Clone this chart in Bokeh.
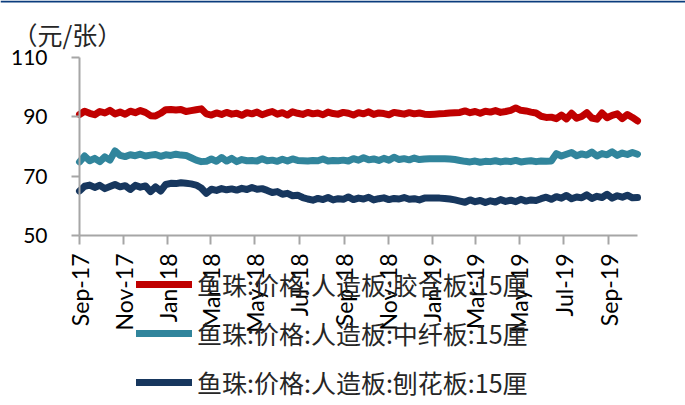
import math
import pandas as pd
from bokeh.plotting import figure
from bokeh.models import (Range1d, FixedTicker, MonthsTicker, DatetimeTickFormatter,
                          Legend, LegendItem, Label, PolyAnnotation)
from bokeh.embed import file_html
from bokeh.resources import INLINE

# Weekly prices at Yuzhu market, yuan per sheet (15 mm boards)
plywood = [
    90.8, 91.9, 91.2, 90.7, 91.8, 91.3, 92.2, 91.0, 91.6, 90.9, 91.9, 91.4, 92.1, 91.5,
    90.4, 90.3, 91.2,
    92.4, 92.5, 92.3, 92.5, 91.8, 92.1, 92.4, 92.7, 91.0,
    90.6, 91.3, 90.8, 91.5, 90.9, 91.2, 90.5, 91.4, 91.0, 91.6,
    90.7, 91.3, 91.8, 90.9, 91.4, 90.6, 91.7, 91.2, 90.8, 91.5,
    91.0, 91.3, 90.7, 91.6, 91.1, 90.9, 91.5, 91.2, 90.6, 91.4,
    91.0, 91.7, 90.8, 91.3, 91.1, 90.7, 91.5, 91.2, 90.9, 91.4,
    91.0, 91.3, 90.9,
    90.8, 90.9, 91.0, 91.1, 91.3, 91.4,
    91.5, 92.0, 91.4, 91.8, 91.2, 91.9, 91.6, 92.1, 91.5, 91.8, 92.2,
    93.0, 92.2, 92.0, 91.6, 91.3, 90.2, 89.8,
    89.9, 89.4, 90.6, 89.3, 91.2, 89.5, 90.1, 91.4, 89.6, 89.2,
    91.3, 89.7, 90.5, 91.0, 89.4, 90.8, 89.8, 88.6,
]

mdf = [
    74.8, 76.8, 75.2, 76.0, 74.9, 76.5, 75.4,
    78.5, 77.0,
    76.6, 77.2, 76.9, 77.4, 76.8, 77.1, 77.3, 76.7, 77.2, 77.0, 77.4, 77.1,
    77.0, 76.2, 75.4, 74.9, 75.0,
    75.8, 75.0, 76.3, 75.1, 76.0, 74.9, 75.6, 75.2, 75.3, 75.1,
    75.9, 75.2, 75.4, 75.0, 75.7, 75.1, 75.8, 75.3, 75.2, 75.1,
    75.3, 75.2, 75.8, 75.1, 75.3, 75.2, 75.4, 75.1, 75.9, 75.4,
    76.2, 75.5, 75.8, 75.3, 76.0, 75.4, 76.4, 75.6, 75.9, 75.5,
    76.1, 75.6, 75.8,
    75.9, 75.9, 75.9, 75.9, 75.8, 75.6,
    75.3, 75.0, 74.8, 75.1, 74.7, 75.0, 74.9, 75.2, 74.8, 75.1,
    74.9, 75.3, 74.8, 75.0, 75.2, 74.9, 75.1, 75.0, 75.1,
    77.6, 76.8, 77.4, 78.0, 76.9, 77.5, 77.1, 78.1, 76.8, 77.6,
    77.2, 78.2, 77.0, 77.8, 77.3, 78.0, 77.4,
]

particleboard = [
    65.0, 66.6,
    67.0, 66.2, 66.9, 65.8, 66.5, 67.2, 66.4, 66.8, 65.5, 66.9, 66.3, 66.7,
    64.8, 66.4, 65.0,
    67.2, 67.6, 67.5, 67.8, 67.6, 67.4, 67.0,
    66.0, 64.2,
    65.6, 65.2, 65.8, 65.4, 65.7, 65.3, 65.9, 65.5, 66.2, 65.6, 65.8,
    65.2, 64.5, 64.8, 63.9, 64.2, 63.4, 63.6, 62.8,
    62.3, 61.9, 62.5, 62.1, 62.8, 62.0, 62.4, 62.2, 63.0, 62.1,
    62.6, 62.3, 62.9, 62.0, 62.4, 62.7, 62.1, 62.5, 62.3, 62.8,
    62.2, 62.4, 62.0, 62.6,
    62.6, 62.6, 62.6, 62.5, 62.3, 62.0,
    61.6, 61.2, 62.0, 61.4, 61.8, 61.1, 61.7, 61.3, 62.1, 61.5,
    61.9, 61.4, 62.2, 61.6, 62.0, 61.8,
    62.4, 62.9, 62.2, 63.1, 62.6, 63.5, 62.4, 63.0, 62.7, 63.7,
    62.5, 63.2, 62.8, 63.9, 62.6, 63.4, 62.9, 63.6, 62.7, 62.8,
]

dates = pd.date_range("2017-09-01", periods=len(plywood), freq="7D")

series_names = [
    "鱼珠:价格:人造板:胶合板:15厘",
    "鱼珠:价格:人造板:中纤板:15厘",
    "鱼珠:价格:人造板:刨花板:15厘",
]
series_colors = ["#C00000", "#31859C", "#17375E"]
y_ticks = [50, 70, 90, 110]
unit_text = "（元/张）"

# canvas layout (pixels): the plotting frame fills the whole canvas and the
# axes are pinned inside it, so the legend can sit over the date labels
W, H = 685, 405
ax_left, ax_right, ax_top, ax_bottom = 79, 637, 57, 235
y_lo, y_hi = 50, 110
t0 = pd.Timestamp("2017-09-01")
t1 = pd.Timestamp("2019-10-11")

px_per_day = (ax_right - ax_left) / (t1 - t0).days
x_start = t0 - pd.Timedelta(days=ax_left / px_per_day)
x_end = t1 + pd.Timedelta(days=(W - ax_right) / px_per_day)
px_per_unit = (ax_bottom - ax_top) / (y_hi - y_lo)
y_start = y_lo - (H - ax_bottom) / px_per_unit
y_end = y_hi + ax_top / px_per_unit

p = figure(width=W, height=H, x_axis_type="datetime",
           output_backend="svg", toolbar_location=None,
           x_range=Range1d(x_start, x_end), y_range=Range1d(y_start, y_end),
           min_border=0)
p.outline_line_color = None
p.background_fill_color = "white"
p.border_fill_color = "white"
p.xgrid.visible = False
p.ygrid.visible = False

renderers = []
for vals, color in zip([plywood, mdf, particleboard], series_colors):
    r = p.line(dates, vals, line_color=color, line_width=7,
               line_cap="round", line_join="round")
    renderers.append(r)

axis_color = "#A6A6A6"
tick_font = "Lato"
t0_ms = t0.timestamp() * 1000
t1_ms = t1.timestamp() * 1000

xa = p.xaxis[0]
xa.fixed_location = y_lo
xa.bounds = (t0_ms, t1_ms)
xa.ticker = MonthsTicker(months=[0, 2, 4, 6, 8, 10])
xa.formatter = DatetimeTickFormatter(months="%b-%y", days="%b-%y")
xa.major_label_orientation = math.pi / 2
xa.axis_line_color = axis_color
xa.axis_line_width = 2
xa.major_tick_line_color = axis_color
xa.major_tick_line_width = 2
xa.major_tick_out = 9
xa.major_tick_in = 0
xa.minor_tick_line_color = None
xa.major_label_text_font = tick_font
xa.major_label_text_font_size = "23px"
xa.major_label_text_color = "#000000"
xa.major_label_standoff = 9

ya = p.yaxis[0]
ya.fixed_location = t0_ms
ya.bounds = (y_lo, y_hi)
ya.ticker = FixedTicker(ticks=y_ticks)
ya.axis_line_color = axis_color
ya.axis_line_width = 2
ya.major_tick_line_color = axis_color
ya.major_tick_line_width = 2
ya.major_tick_out = 8
ya.major_tick_in = 0
ya.minor_tick_line_color = None
ya.major_label_text_font = tick_font
ya.major_label_text_font_size = "21px"
ya.major_label_text_color = "#000000"
ya.major_label_standoff = 24

legend = Legend(
    items=[LegendItem(label=name, renderers=[r]) for name, r in zip(series_names, renderers)],
    location=(136, 5), orientation="vertical",
    label_text_font="Noto Sans CJK SC", label_text_font_size="25px",
    label_text_color="#262626",
    glyph_width=56, glyph_height=30, label_height=30, label_standoff=5,
    spacing=13, padding=0, margin=0,
    background_fill_alpha=0, border_line_alpha=0,
)
p.add_layout(legend)

# unit caption above the value axis
p.add_layout(Label(x=12, y=H - 33, x_units="screen", y_units="screen",
                   text=unit_text, text_font="Noto Sans CJK SC",
                   text_font_size="25px", text_color="#262626",
                   text_baseline="middle", text_align="left"))

# dark rule along the top edge of the page
p.add_layout(PolyAnnotation(xs=[0, W, W, 0], ys=[H, H, H - 2, H - 2],
                            xs_units="screen", ys_units="screen",
                            fill_color="#0B3C7D", fill_alpha=1.0,
                            line_color=None))

open("out.html", "w").write(file_html(p, INLINE))
